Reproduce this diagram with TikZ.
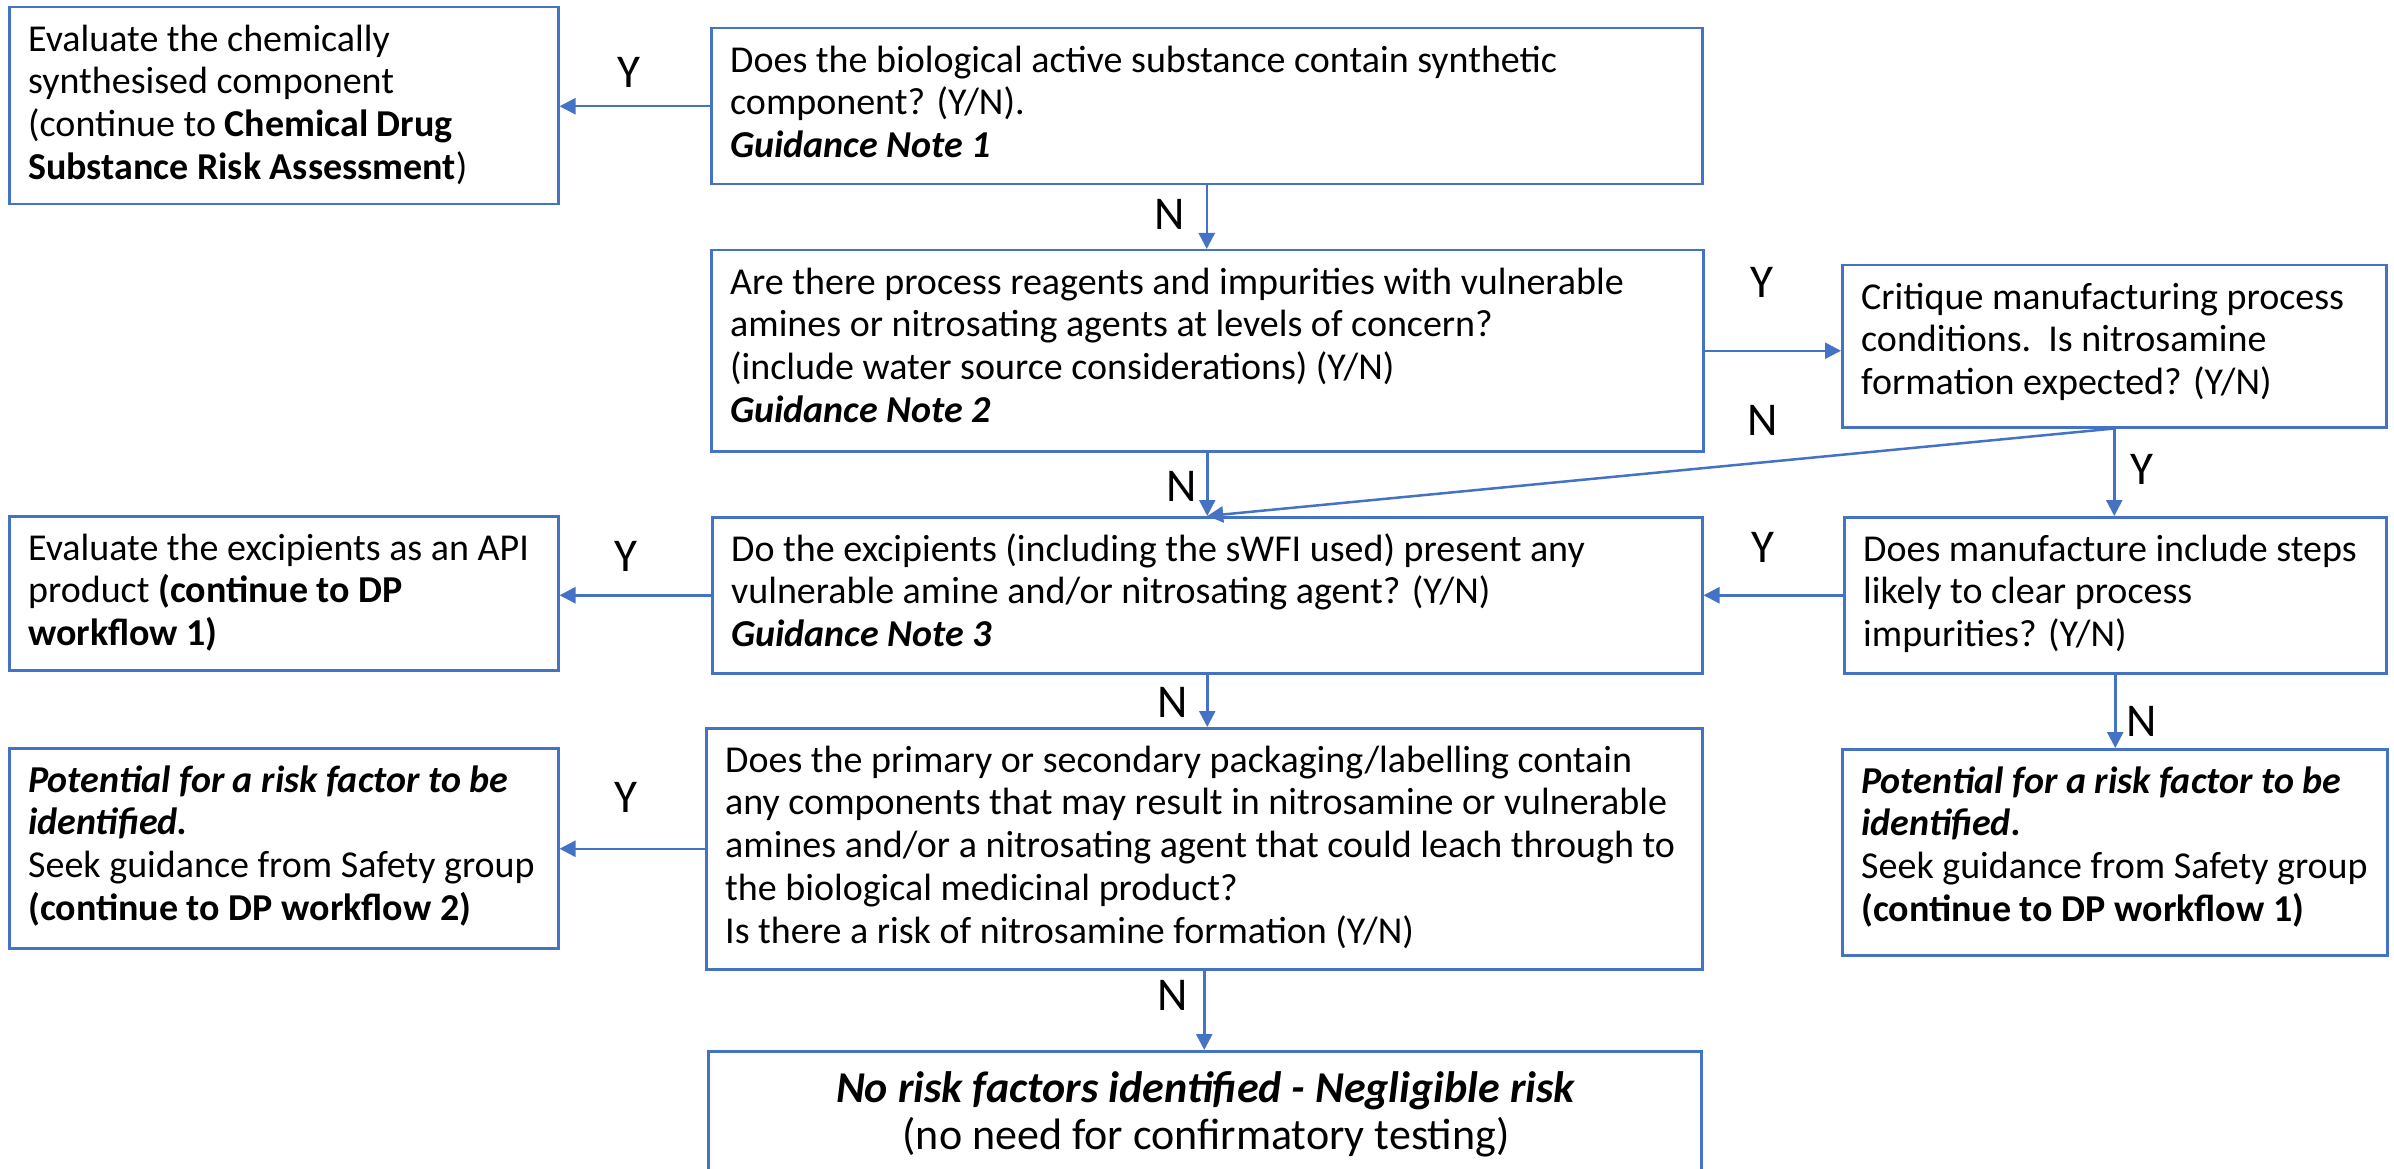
\documentclass[tikz,border=0pt]{standalone}
\usepackage{fontspec}
\setmainfont{Carlito}
\usetikzlibrary{arrows.meta}
\definecolor{ob}{HTML}{4472C4}
\newcommand{\fl}{\rule{0pt}{31pt}}
\newcommand{\bi}[1]{\textbf{\textit{#1}}}
\begin{document}
\begin{tikzpicture}[x=1pt,y=-1pt,
  box/.style={draw=ob, line width=2.5pt, rectangle, inner sep=0pt, anchor=north west},
  txt/.style={anchor=north west, inner sep=0pt, align=left, font=\fontsize{38}{42.7}\selectfont},
  lab/.style={inner sep=0pt, font=\fontsize{47}{52}\selectfont},
  arr/.style={draw=ob, line width=2.5pt, -{Triangle[length=16pt,width=16pt]}},
]
\useasboundingbox (0,0) rectangle (2394,1169);
\clip (0,0) rectangle (2394,1169);

% boxes
\node[box, minimum width=549pt, minimum height=197pt] (A) at (8,6) {};
\node[box, minimum width=991pt, minimum height=156pt] (B) at (710,27) {};
\node[box, minimum width=992pt, minimum height=201pt] (C) at (710,249) {};
\node[box, minimum width=544pt, minimum height=162pt] (D) at (1841,264) {};
\node[box, minimum width=542pt, minimum height=156pt] (E) at (1843,516) {};
\node[box, minimum width=990pt, minimum height=156pt] (F) at (711,516) {};
\node[box, minimum width=549pt, minimum height=154pt] (G) at (8,515) {};
\node[box, minimum width=996pt, minimum height=241pt] (H) at (705,727) {};
\node[box, minimum width=549pt, minimum height=200pt] (I) at (8,747) {};
\node[box, minimum width=545pt, minimum height=206pt] (J) at (1841,748) {};
\node[box, minimum width=993pt, minimum height=200pt] (K) at (707,1050) {};

% texts
\node[txt] (At) at (28,20) {\fl Evaluate the chemically\\synthesised component\\(continue to \textbf{Chemical Drug}\\\textbf{Substance Risk Assessment})};
\node[txt] (Bt) at (730,41) {\fl Does the biological active substance contain synthetic\\component? (Y/N).\\\bi{Guidance Note 1}};
\node[txt] (Ct) at (730,263) {\fl Are there process reagents and impurities with vulnerable\\amines or nitrosating agents at levels of concern?\\(include water source considerations) (Y/N)\\\bi{Guidance Note 2}};
\node[txt] (Dt) at (1861,278) {\fl Critique manufacturing process\\conditions.\ \ Is nitrosamine\\formation expected? (Y/N)};
\node[txt] (Et) at (1863,530) {\fl Does manufacture include steps\\likely to clear process\\impurities? (Y/N)};
\node[txt] (Ft) at (731,530) {\fl Do the excipients (including the sWFI used) present any\\vulnerable amine and/or nitrosating agent? (Y/N)\\\bi{Guidance Note 3}};
\node[txt] (Gt) at (28,529) {\fl Evaluate the excipients as an API\\product \textbf{(continue to DP}\\\textbf{workflow 1)}};
\node[txt] (Ht) at (725,741) {\fl Does the primary or secondary packaging/labelling contain\\any components that may result in nitrosamine or vulnerable\\amines and/or a nitrosating agent that could leach through to\\the biological medicinal product?\\Is there a risk of nitrosamine formation (Y/N)};
\node[txt] (It) at (28,761) {\fl\bi{Potential for a risk factor to be}\\\bi{identified.}\\Seek guidance from Safety group\\\textbf{(continue to DP workflow 2)}};
\node[txt] (Jt) at (1861,762) {\fl\bi{Potential for a risk factor to be}\\\bi{identified.}\\Seek guidance from Safety group\\\textbf{(continue to DP workflow 1)}};
\node[txt, anchor=north, align=center, font=\fontsize{44}{47}\selectfont] (Kt) at (1206,1068) {\rule{0pt}{34pt}\bi{No risk factors identified - Negligible risk}\\(no need for confirmatory testing)};

% connectors
\draw[arr] (B.west) -- (B.west -| A.east);
\draw[arr] (B.south) -- (B.south |- C.north);
\draw[arr] (C.east) -- (C.east -| D.west);
\draw[arr] (D.south) -- (F.north);
\draw[arr] (D.south) -- (D.south |- E.north);
\draw[arr] (C.south) -- (C.south |- F.north);
\draw[arr] (E.west) -- (E.west -| F.east);
\draw[arr] (F.west) -- (F.west -| G.east);
\draw[arr] (F.south) -- (F.south |- H.north);
\draw[arr] (H.west) -- (H.west -| I.east);
\draw[arr] (E.south) -- (E.south |- J.north);
\draw[arr] (H.south) -- (H.south |- K.north);

% labels
\node[lab] (l1) at (629,72) {Y};
\node[lab] (l2) at (1170,214) {N};
\node[lab] (l3) at (1762,282) {Y};
\node[lab] (l4) at (1763,420) {N};
\node[lab] (l5) at (2142,469) {Y};
\node[lab] (l6) at (1763,547) {Y};
\node[lab] (l7) at (1182,486) {N};
\node[lab] (l8) at (626,556) {Y};
\node[lab] (l9) at (1173,702) {N};
\node[lab] (l10) at (626,797) {Y};
\node[lab] (l11) at (2142,721) {N};
\node[lab] (l12) at (1173,995) {N};
\end{tikzpicture}
\end{document}
